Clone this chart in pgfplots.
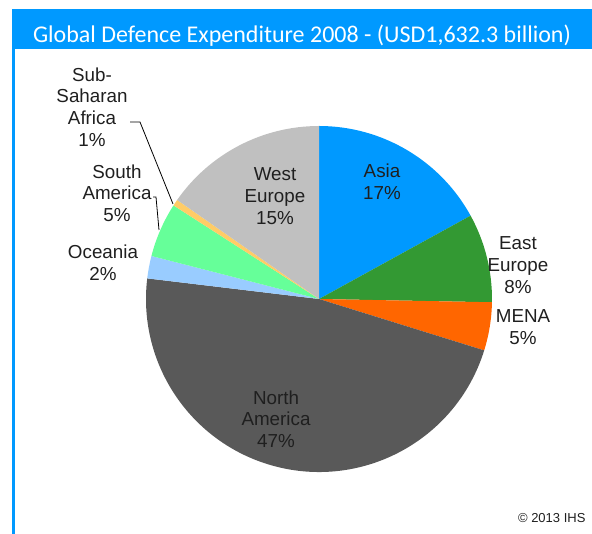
\documentclass[border=0pt]{standalone}
\usepackage{pgfplots}
\pgfplotsset{compat=1.18}
\usepackage{pgfplotstable}
\usepackage{fontspec}
\setmainfont{Liberation Sans}
\newfontfamily\titlefont{Carlito}
\definecolor{c0}{HTML}{0099FF}
\definecolor{c1}{HTML}{339933}
\definecolor{c2}{HTML}{FF6600}
\definecolor{c3}{HTML}{595959}
\definecolor{c4}{HTML}{99CCFF}
\definecolor{c5}{HTML}{66FF99}
\definecolor{c6}{HTML}{FFCC66}
\definecolor{c7}{HTML}{C0C0C0}
\definecolor{barblue}{HTML}{0099FF}
\definecolor{labtxt}{HTML}{1F1F1F}

\pgfplotstableread[col sep=comma]{
region,value
Asia,17.0
East Europe,8.3
MENA,4.5
North America,47.1
Oceania,2.1
South America,5.1
Sub-Saharan Africa,0.6
West Europe,15.3
}\piedata

\begin{document}
\begin{tikzpicture}
\useasboundingbox (0,0) rectangle (592pt,534pt);
\xdef\cum{0}
\foreach \i in {0,...,7}{
  \pgfplotstablegetelem{\i}{value}\of\piedata
  \pgfmathsetmacro\st{90-3.6*\cum}
  \pgfmathsetmacro\newcum{\cum+\pgfplotsretval}
  \pgfmathsetmacro\en{90-3.6*\newcum}
  \expandafter\xdef\csname s\i\endcsname{\st}
  \expandafter\xdef\csname e\i\endcsname{\en}
  \xdef\cum{\newcum}
}
\begin{axis}[at={(0,0)}, anchor=origin, x=1pt, y=1pt,
  xmin=0, xmax=592, ymin=0, ymax=534,
  hide axis, clip=false, scale only axis]
% frame
\fill[barblue] (axis cs:12,485) rectangle (axis cs:592,525);
\fill[barblue] (axis cs:12,0) rectangle (axis cs:14.5,485);
\node[text=white, font=\titlefont\fontsize{24}{28}\selectfont] at (axis cs:302,498) {Global Defence Expenditure 2008 - (USD1,632.3 billion)};
% pie
\pgfplotsinvokeforeach{0,...,7}{
  \fill[c#1] (axis cs:319,235) -- ++(\csname s#1\endcsname:173pt)
    arc[start angle=\csname s#1\endcsname, end angle=\csname e#1\endcsname, radius=173pt] -- cycle;
}
% labels
\begin{scope}[every node/.style={align=center, text=labtxt, font=\fontsize{18.8}{21.7}\selectfont}]
\node at (axis cs:382,352) {Asia\\17\%};
\node at (axis cs:275,338) {West\\Europe\\15\%};
\node at (axis cs:276,115) {North\\America\\47\%};
\node at (axis cs:518,269) {East\\Europe\\8\%};
\node at (axis cs:523,207) {MENA\\5\%};
\node at (axis cs:103,271) {Oceania\\2\%};
\node at (axis cs:117,341) {South\\America\\5\%};
\node at (axis cs:92,427) {Sub-\\Saharan\\Africa\\1\%};
\end{scope}
\draw[black, line width=0.8pt] (axis cs:130,412) -- (axis cs:140,412) -- (axis cs:173,330);
\draw[black, line width=0.8pt] (axis cs:153,337) -- (axis cs:156,337) -- (axis cs:159,304);
\node[anchor=east, text=labtxt, font=\fontsize{13}{15}\selectfont] at (axis cs:589,16) {\textcopyright\ 2013 IHS};
\end{axis}
\end{tikzpicture}
\end{document}
